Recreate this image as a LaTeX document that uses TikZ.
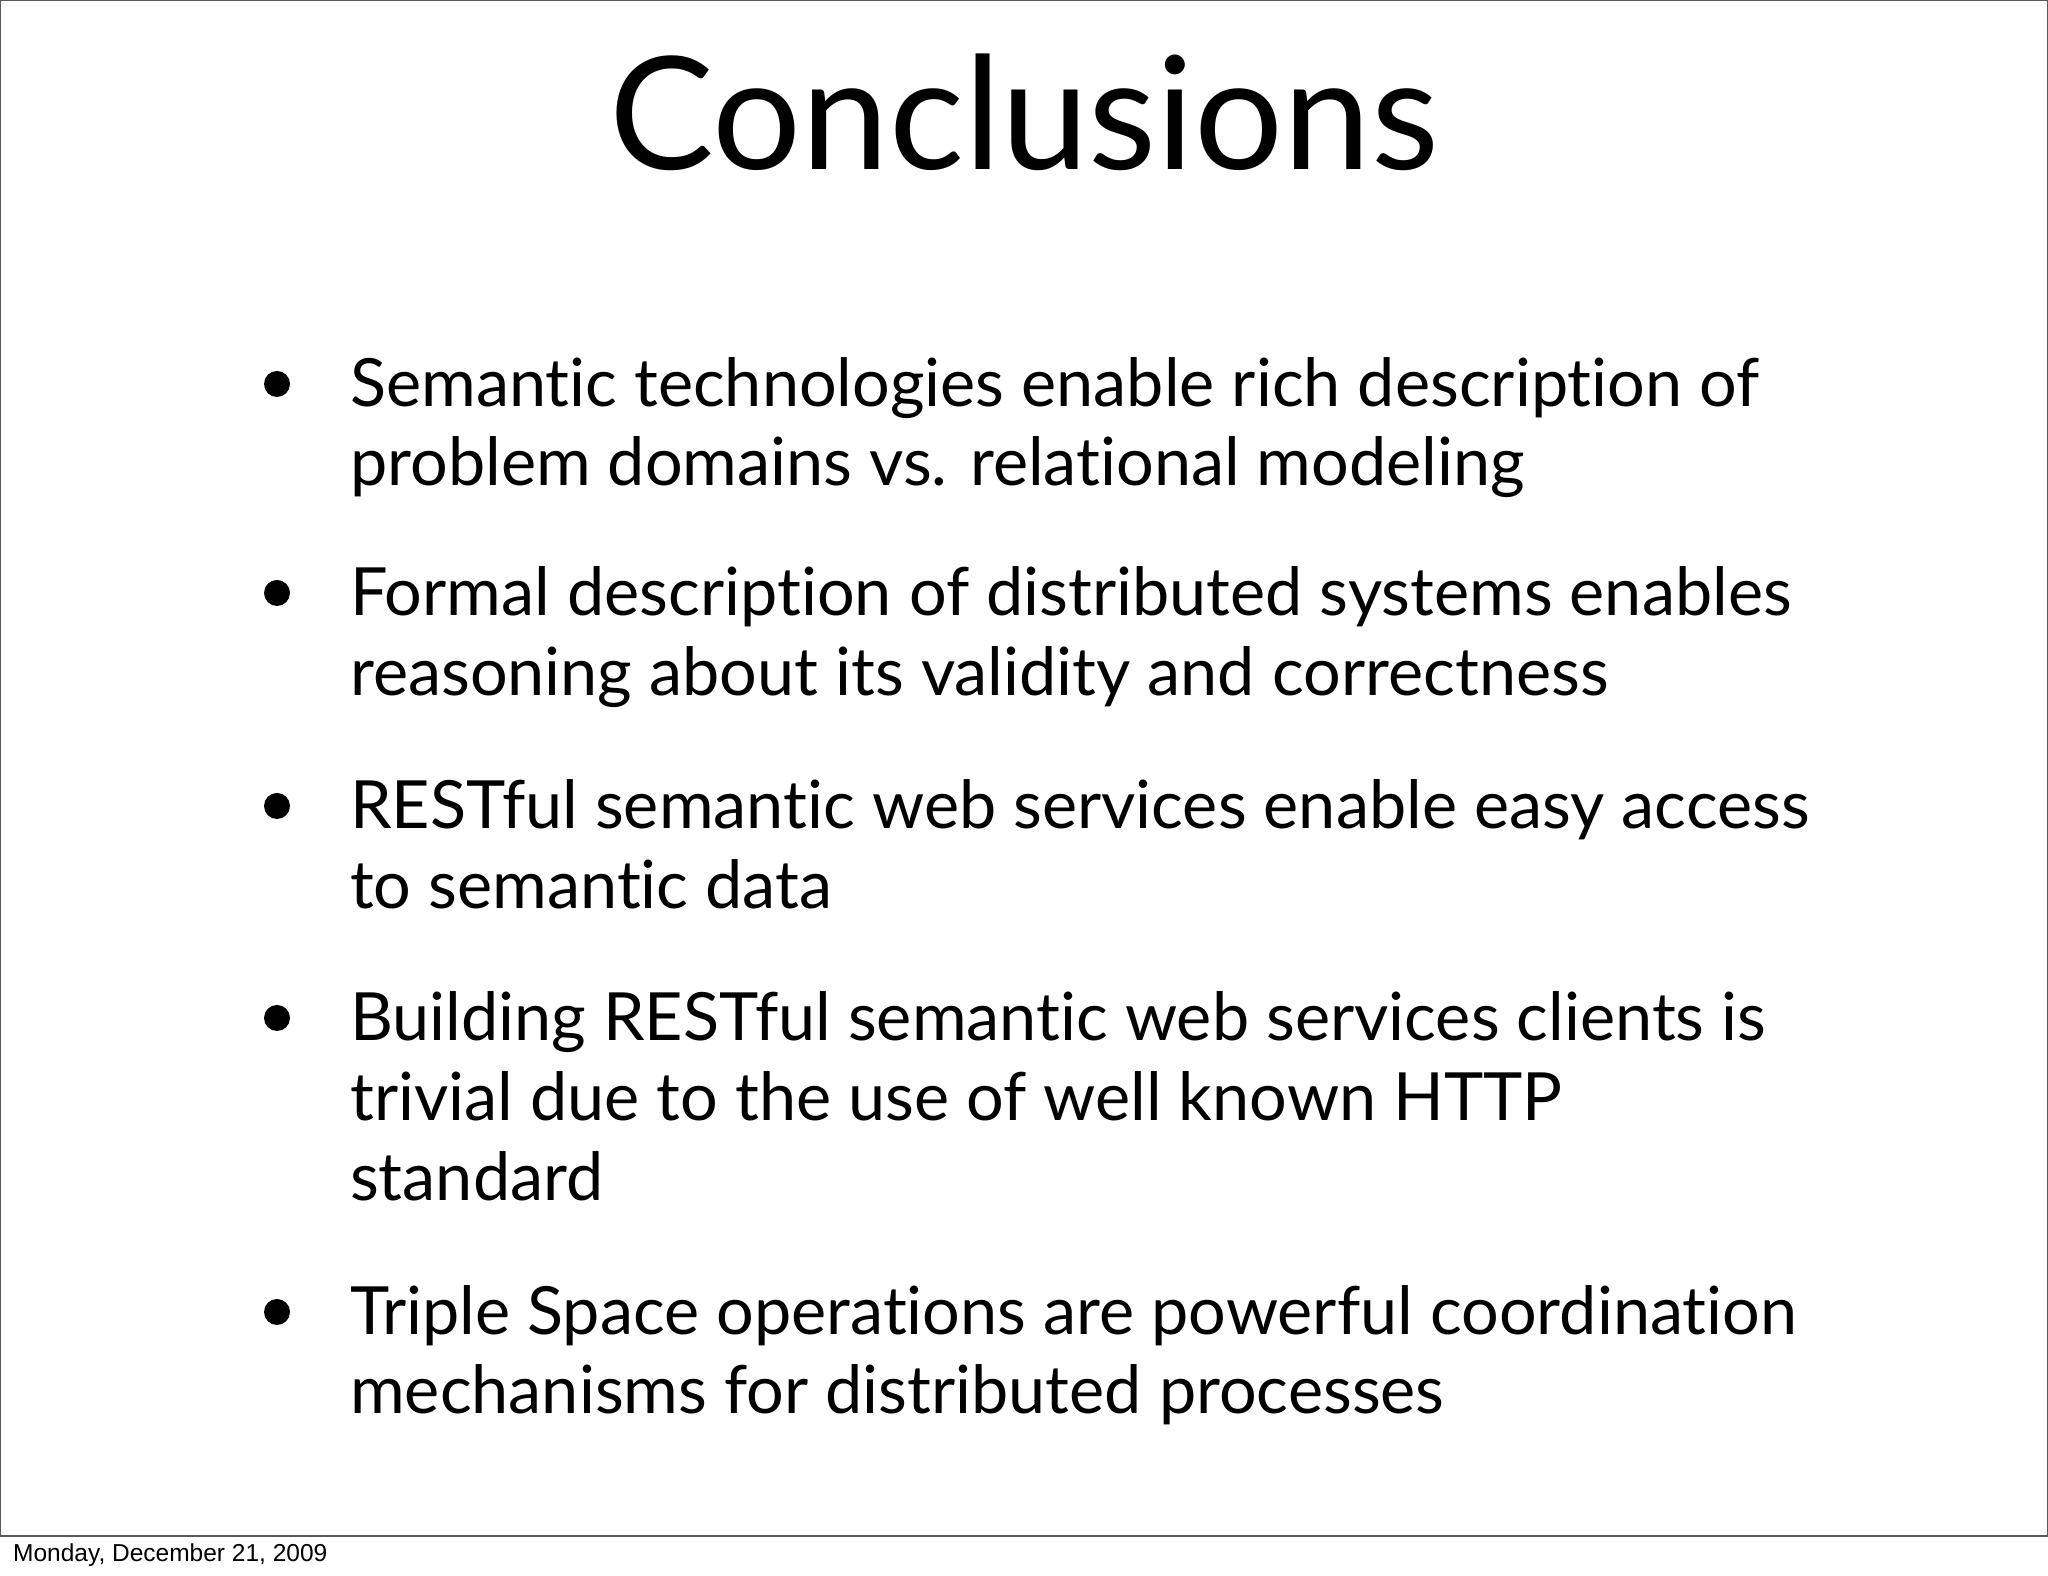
\documentclass[tikz,border=0pt]{standalone}
\usepackage{fontspec}
\setmainfont{Lato}[Ligatures=NoCommon]
\setsansfont{Liberation Sans}
\begin{document}
\begin{tikzpicture}[x=1pt,y=1pt,
  ln/.style={anchor=base west,inner sep=0pt,font=\fontsize{66.5}{75}\selectfont},
  bul/.style={fill=black}]
\useasboundingbox (0,0) rectangle (2048,1576);
\fill[white] (0,0) rectangle (2048,1576);
\draw[line width=1.2, gray!70!black] (0.6,40) rectangle (2047.4,1575.4);
\node[anchor=base,inner sep=0pt,font=\fontsize{157}{160}\selectfont] (title) at (1024,1406) {Conclusions};
\foreach \y in {1192,983,770,558,264} \fill[bul] (277,\y) circle (13);
\node[ln] (a1) at (350,1169) {Semantic technologies enable rich description of};
\node[ln] (a2) at (350,1090) {problem domains vs. relational modeling};
\node[ln] (b1) at (350,960) {Formal description of distributed systems enables};
\node[ln] (b2) at (350,880) {reasoning about its validity and correctness};
\node[ln] (c1) at (350,747) {RESTful semantic web services enable easy access};
\node[ln] (c2) at (350,667) {to semantic data};
\node[ln] (d1) at (350,535) {Building RESTful semantic web services clients is};
\node[ln] (d2) at (350,455) {trivial due to the use of well known HTTP};
\node[ln] (d3) at (350,375) {standard};
\node[ln] (e1) at (350,241) {Triple Space operations are powerful coordination};
\node[ln] (e2) at (350,162) {mechanisms for distributed processes};
\node[anchor=base west,inner sep=0pt,font=\sffamily\fontsize{24.5}{26}\selectfont] (foot) at (13,14) {Monday, December 21, 2009};
\end{tikzpicture}
\end{document}
